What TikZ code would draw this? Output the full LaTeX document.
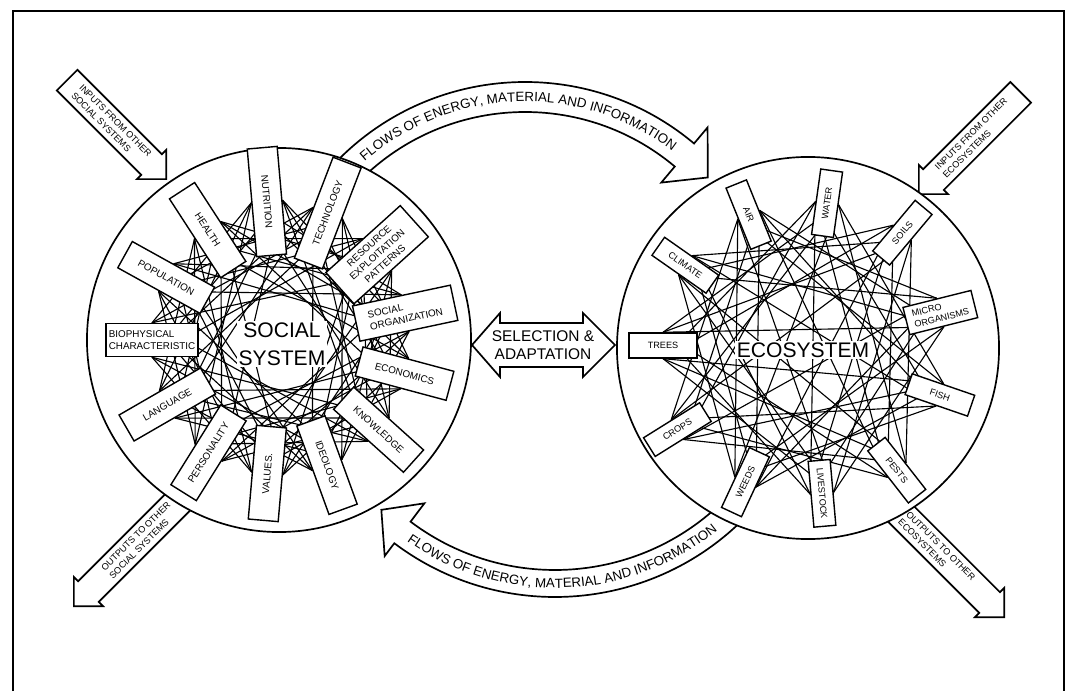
\documentclass[tikz,border=0pt]{standalone}
\usepackage{fontspec}
\setmainfont{Liberation Sans}
\usetikzlibrary{calc,shapes.arrows,decorations.text}

\pgfdeclarelayer{bg}
\pgfdeclarelayer{web}
\pgfsetlayers{bg,web,main}

\begin{document}
\begin{tikzpicture}[
    x=0.025cm, y=0.025cm,
    factor/.style={
        draw,
        fill=white,
        line width=1pt,
        align=center,
        inner sep=1pt,
        minimum width=23.5mm,
        minimum height=7.5mm,
        font=\fontsize{7}{8.5}\selectfont
    },
    ecofactor/.style={
        factor,
        minimum width=16.5mm,
        minimum height=5.5mm,
        font=\fontsize{6.5}{8}\selectfont
    },
    system/.style={
        draw,
        circle,
        fill=white,
        line width=1.2pt
    },
    band/.style={draw, fill=white, line width=1.2pt},
    flowtext/.style={
        decorate,
        decoration={
            text along path,
            text align=center,
            text={|\fontsize{9.5}{10}\selectfont|FLOWS OF ENERGY, MATERIAL AND INFORMATION}
        }
    },
    ioarrow/.style={
        single arrow,
        draw,
        fill=white,
        line width=1.2pt,
        align=left,
        inner xsep=3pt,
        inner ysep=3.5pt,
        single arrow head extend=1.5mm,
        single arrow tip angle=90,
        font=\fontsize{6.5}{8}\selectfont
    },
    link/.style={line width=0.8pt}
]
\useasboundingbox (0,0) rectangle (1070,691);

% centres
\coordinate (lc) at (279,351);
\coordinate (rc) at (808,343);
\coordinate (tc) at (525,346);
\coordinate (bc) at (555,361);
\coordinate (selc) at (543,346);

\draw[line width=2pt] (13,0) -- (13,680) -- (1064,680) -- (1064,0);

\begin{pgfonlayer}{bg}
% flows between the two systems
\draw[band] ($(tc)+(138:263)$) arc[start angle=138, end angle=50, radius=263]
    -- ($(tc)+(50:284)$) -- ($(tc)+(42.5:248)$) -- ($(tc)+(50:212)$)
    -- ($(tc)+(50:233)$) arc[start angle=50, end angle=138, radius=233] -- cycle;
\path[flowtext] ($(tc)+(134:243.5)$) arc[start angle=134, end angle=50, radius=243.5];
\draw[band] ($(bc)+(-42:267)$) arc[start angle=-42, end angle=-127, radius=267]
    -- ($(bc)+(-127:283)$) -- ($(bc)+(-134:250)$) -- ($(bc)+(-127:217)$)
    -- ($(bc)+(-127:240)$) arc[start angle=-127, end angle=-42, radius=240] -- cycle;
\path[flowtext] ($(bc)+(-128:258)$) arc[start angle=-128, end angle=-48, radius=258];

% inputs and outputs
\node[ioarrow, rotate=-45, anchor=tip, minimum height=3.5cm] (insoc) at (167,511) {INPUTS FROM OTHER\\SOCIAL SYSTEMS};
\node[ioarrow, rotate=45, shape border rotate=180, anchor=tip, minimum height=3.6cm] (ineco) at (918,496) {INPUTS FROM OTHER\\ECOSYSTEMS};
\node[ioarrow, rotate=45, shape border rotate=180, anchor=tip, minimum height=4.3cm] (outsoc) at (73,84) {OUTPUTS TO OTHER\\SOCIAL SYSTEMS};
\node[ioarrow, rotate=-45, anchor=tip, minimum height=4.4cm] (outeco) at (1005,73) {OUTPUTS TO OTHER\\ECOSYSTEMS};

\node[system, minimum size=9.6cm] (social) at (lc) {};
\node[system, minimum size=9.55cm] (ecosys) at (rc) {};
\end{pgfonlayer}

% social system
\begin{scope}[shift={(lc)}]
\node[factor, minimum width=23mm, minimum height=8.25mm, align=left] (s0) at (180:127) {BIOPHYSICAL\\CHARACTERISTIC};
\node[factor, rotate=-29] (s1) at (151:129) {POPULATION};
\node[factor, rotate=-57] (s2) at (123:131) {HEALTH};
\node[factor, rotate=-85, minimum width=27mm] (s3) at (95:139) {NUTRITION};
\node[factor, rotate=69, minimum width=27mm] (s4) at (69:136) {TECHNOLOGY};
\node[factor, rotate=42, minimum width=25mm, minimum height=10.5mm] (s5) at (41:130) {RESOURCE\\EXPLOITATION\\PATTERNS};
\node[factor, rotate=12, minimum width=25mm, minimum height=9mm, align=left] (s6) at (12:129) {SOCIAL\\ORGANIZATION};
\node[factor, rotate=-15] (s7) at (-15:130) {ECONOMICS};
\node[factor, rotate=-42] (s8) at (-42:134) {KNOWLEDGE};
\node[factor, rotate=-70] (s9) at (-69:134) {IDEOLOGY};
\node[factor, rotate=85] (s10) at (-95:134) {VALUES.};
\node[factor, rotate=58] (s11) at (-122:133) {PERSONALITY};
\node[factor, rotate=30] (s12) at (-150:129) {LANGUAGE};
\node[font=\fontsize{15}{20}\selectfont, fill=white, align=center, inner sep=1pt] (soctext) at (3,-4) {SOCIAL\\SYSTEM};
\end{scope}

% ecosystem
\begin{scope}[shift={(rc)}]
\node[ecofactor, minimum width=17mm, minimum height=6.25mm] (e0) at (179:145) {TREES};
\node[ecofactor, rotate=-35] (e1) at (146:148) {CLIMATE};
\node[ecofactor, rotate=-68] (e2) at (114:146) {AIR};
\node[ecofactor, rotate=82] (e3) at (82.5:146) {WATER};
\node[ecofactor, rotate=50] (e4) at (50.7:149) {SOILS};
\node[ecofactor, rotate=14, minimum width=17.5mm, minimum height=7mm, align=left] (e5) at (15:137) {MICRO\\ORGANISMS};
\node[ecofactor, rotate=-19] (e6) at (-19.6:140) {FISH};
\node[ecofactor, rotate=-52] (e7) at (-54:151) {PESTS};
\node[ecofactor, rotate=-85] (e8) at (-84.5:146) {LIVESTOCK};
\node[ecofactor, rotate=65] (e9) at (-115:148) {WEEDS};
\node[ecofactor, rotate=32] (e10) at (-148:154) {CROPS};
\node[font=\fontsize{15}{18}\selectfont, fill=white, inner sep=1pt] (ecotext) at (-5,-2) {ECOSYSTEM};
\end{scope}

% web of interactions
\begin{pgfonlayer}{web}
\foreach \i in {0,...,12}{
    \foreach \k in {3,4,5}{
        \pgfmathtruncatemacro{\j}{mod(\i+\k,13)}
        \draw[link] (s\i.north) -- (s\j.south);
        \draw[link] (s\i.south) -- (s\j.north);
    }
}
\foreach \i in {0,...,10}{
    \foreach \k in {3,4}{
        \pgfmathtruncatemacro{\j}{mod(\i+\k,11)}
        \draw[link] (e\i.north) -- (e\j.south);
        \draw[link] (e\i.south) -- (e\j.north);
    }
    \pgfmathtruncatemacro{\j}{mod(\i+5,11)}
    \draw[link] (e\i.north) -- (e\j.south);
}
\end{pgfonlayer}

% selection and adaptation
\draw[band] ($(selc)+(-71,0)$) -- ($(selc)+(-43,32)$) -- ($(selc)+(-43,22)$)
    -- ($(selc)+(40,22)$) -- ($(selc)+(40,32)$) -- ($(selc)+(72,0)$)
    -- ($(selc)+(40,-32)$) -- ($(selc)+(40,-22)$) -- ($(selc)+(-43,-22)$)
    -- ($(selc)+(-43,-32)$) -- cycle;
\node[font=\fontsize{11}{13}\selectfont, align=center] (sel) at (selc) {SELECTION \&\\ADAPTATION};
\end{tikzpicture}
\end{document}
